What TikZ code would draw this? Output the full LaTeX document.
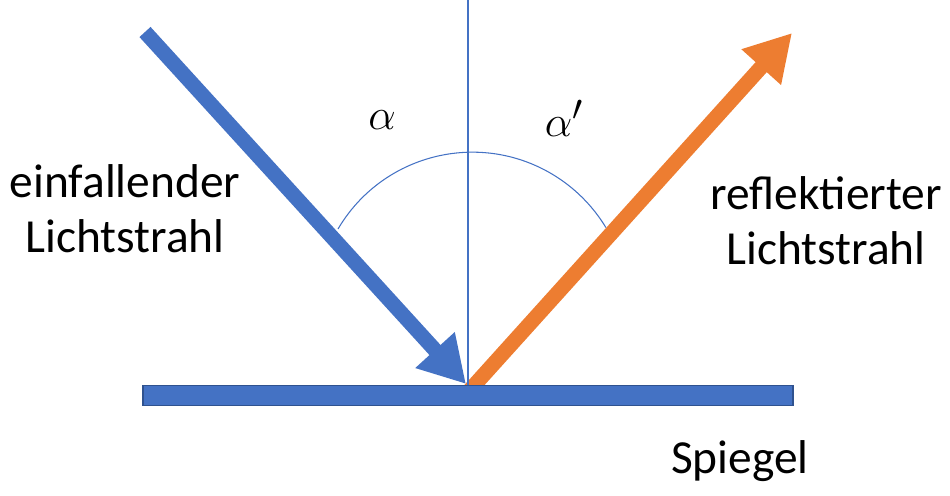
\documentclass[tikz,border=0pt]{standalone}
\usepackage{fontspec}
\setmainfont{Carlito}
\usepackage{tikz}
\usetikzlibrary{arrows.meta}
\definecolor{strahlblau}{RGB}{68,114,196}
\definecolor{randblau}{RGB}{47,82,143}
\definecolor{strahlorange}{RGB}{237,125,49}

\tikzset{
  lichtstrahl/.style={line width=0.3cm, -{Triangle[length=0.92cm, width=1cm]}},
  beschriftung/.style={align=center, inner sep=0pt, font=\fontsize{27}{31.3}\selectfont},
  winkel/.style={inner sep=0pt, font=\fontsize{28}{30}\selectfont}
}

\begin{document}
\begin{tikzpicture}[x=0.02cm, y=-0.02cm]
  \useasboundingbox (0,0) rectangle (950,496);

  % Punkte der Strahlen
  \coordinate (quelle) at (145,32);
  \coordinate (treffpunkt) at (466,384);
  \coordinate (start) at (470,390);
  \coordinate (ziel) at (792,33);
  \coordinate (lot) at (468,0);
  \coordinate (lotfuss) at (468,386);
  \coordinate (bogenlinks) at (338,229);

  % Strahlen
  \draw[lichtstrahl, strahlblau] (quelle) -- (treffpunkt);
  \draw[lichtstrahl, strahlorange] (start) -- (ziel);

  % Lot und Winkelbogen
  \draw[strahlblau, line width=0.6pt] (lot) -- (lotfuss);
  \draw[strahlblau, line width=0.6pt] (bogenlinks) arc[start angle=149.5, end angle=31.1, radius=3.12cm];

  % Spiegel
  \node[draw=randblau, fill=strahlblau, line width=1pt, minimum width=13cm,
        minimum height=0.4cm, inner sep=0pt] (spiegel) at (468,395.5) {};

  % Texte
  \node[beschriftung] (einfall) at (125,209) {einfallender\\Lichtstrahl};
  \node[beschriftung] (reflex) at (826,221) {reflektierter\\Lichtstrahl};
  \node[beschriftung, anchor=base] (spiegeltext) at (740,473) {Spiegel};
  \node[winkel] (alpha) at (382,120) {$\alpha$};
  \node[winkel] (alphastrich) at (564,118) {$\alpha'$};
\end{tikzpicture}
\end{document}
